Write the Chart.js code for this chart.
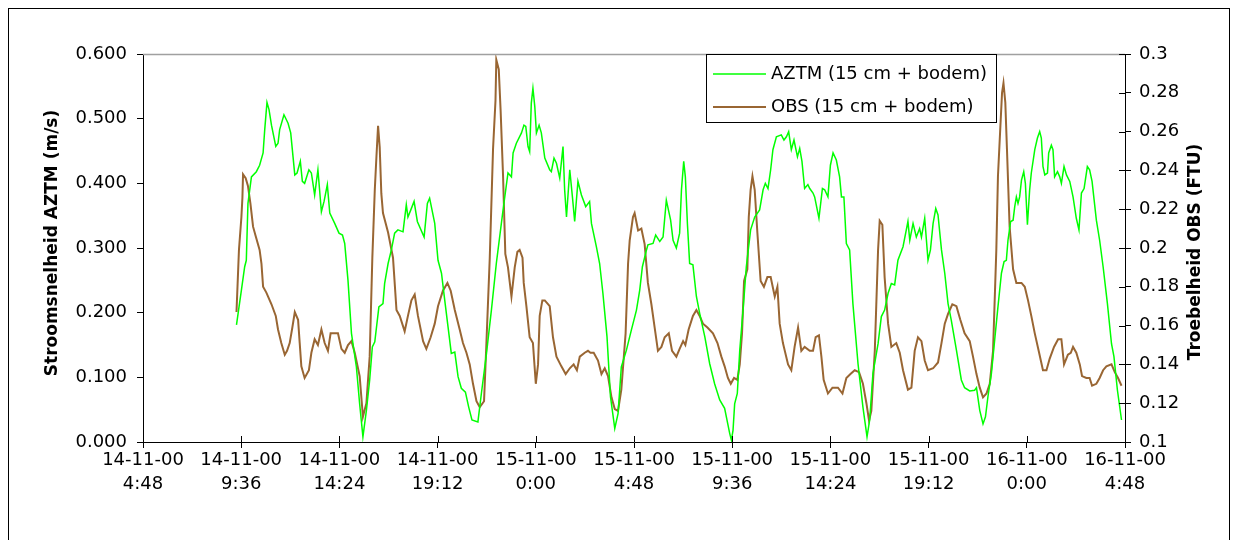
<!DOCTYPE html>
<html>
<head>
<meta charset="utf-8">
<script src="https://cdn.jsdelivr.net/npm/chart.js@4.4.1/dist/chart.umd.min.js"></script>
<style>
    html, body { margin: 0; padding: 0; background: #fff; }
    canvas { display: block; }
</style>
</head>
<body>
<canvas id="flowChart" width="1239" height="540"></canvas>
<script>
// x values are hours since 14-11-00 0:00
const tickHours = [4.8, 9.6, 14.4, 19.2, 24, 28.8, 33.6, 38.4, 43.2, 48, 52.8];
const tickLabels = [
    ['14-11-00', '4:48'], ['14-11-00', '9:36'], ['14-11-00', '14:24'], ['14-11-00', '19:12'],
    ['15-11-00', '0:00'], ['15-11-00', '4:48'], ['15-11-00', '9:36'], ['15-11-00', '14:24'],
    ['15-11-00', '19:12'], ['16-11-00', '0:00'], ['16-11-00', '4:48']
];

// AZTM current speed (m/s), left axis
const aztmHours = [
    9.37, 9.61, 9.77, 9.85, 9.93, 10.10, 10.34, 10.50, 10.67, 10.75, 10.86, 10.96, 11.08, 11.29, 11.40, 11.48,
    11.69, 11.89, 12.02, 12.22, 12.33, 12.49, 12.59, 12.70, 12.91, 13.03, 13.19, 13.35, 13.52, 13.65, 13.81, 13.93,
    14.17, 14.38, 14.55, 14.66, 14.82, 14.99, 15.23, 15.39, 15.55, 15.72, 15.88, 16.01, 16.13, 16.33, 16.53, 16.61,
    16.78, 16.94, 17.10, 17.26, 17.51, 17.67, 17.75, 17.89, 18.05, 18.21, 18.54, 18.70, 18.81, 19.06, 19.22, 19.39,
    19.55, 19.71, 19.87, 20.04, 20.20, 20.36, 20.56, 20.72, 20.88, 21.17, 21.34, 21.59, 21.83, 22.07, 22.40, 22.64,
    22.81, 22.89, 23.05, 23.30, 23.42, 23.51, 23.62, 23.70, 23.78, 23.86, 23.95, 24.03, 24.16, 24.27, 24.44, 24.68,
    24.76, 24.89, 25.01, 25.17, 25.33, 25.41, 25.50, 25.66, 25.79, 25.90, 26.06, 26.23, 26.44, 26.63, 26.72, 26.96,
    27.12, 27.28, 27.48, 27.65, 27.86, 28.02, 28.18, 28.43, 28.67, 28.92, 29.08, 29.21, 29.41, 29.48, 29.73, 29.86,
    30.06, 30.22, 30.38, 30.59, 30.71, 30.87, 31.03, 31.12, 31.23, 31.31, 31.41, 31.52, 31.68, 31.85, 32.01, 32.26,
    32.50, 32.74, 32.99, 33.23, 33.48, 33.56, 33.64, 33.72, 33.85, 33.97, 34.13, 34.29, 34.50, 34.70, 34.94, 35.11,
    35.22, 35.35, 35.48, 35.59, 35.76, 36.00, 36.13, 36.25, 36.36, 36.49, 36.62, 36.79, 36.90, 37.01, 37.14, 37.30,
    37.39, 37.55, 37.63, 37.84, 38.01, 38.12, 38.28, 38.40, 38.53, 38.69, 38.85, 38.94, 39.06, 39.18, 39.34, 39.50,
    39.75, 39.99, 40.19, 40.32, 40.48, 40.73, 40.89, 41.05, 41.22, 41.38, 41.54, 41.70, 41.95, 42.11, 42.19, 42.28,
    42.44, 42.60, 42.76, 42.85, 43.01, 43.17, 43.29, 43.42, 43.55, 43.66, 43.83, 43.99, 44.15, 44.31, 44.56, 44.80,
    44.96, 45.21, 45.45, 45.54, 45.70, 45.86, 45.98, 46.10, 46.27, 46.43, 46.59, 46.76, 46.89, 47.00, 47.08, 47.21,
    47.33, 47.41, 47.49, 47.57, 47.65, 47.74, 47.85, 47.93, 48.03, 48.14, 48.22, 48.39, 48.52, 48.63, 48.71, 48.79,
    48.88, 49.01, 49.07, 49.20, 49.28, 49.36, 49.50, 49.61, 49.69, 49.82, 49.94, 50.10, 50.26, 50.42, 50.55, 50.67,
    50.80, 50.96, 51.07, 51.19, 51.40, 51.56, 51.73, 51.94, 52.14, 52.26, 52.43, 52.63
];
const aztmSpeed = [
    0.181, 0.235, 0.271, 0.281, 0.369, 0.410, 0.418, 0.428, 0.447, 0.483, 0.525, 0.514, 0.490, 0.457, 0.462, 0.483,
    0.506, 0.493, 0.478, 0.413, 0.416, 0.434, 0.403, 0.400, 0.421, 0.416, 0.382, 0.421, 0.356, 0.372, 0.398, 0.354,
    0.338, 0.323, 0.320, 0.307, 0.250, 0.168, 0.116, 0.059, 0.008, 0.049, 0.096, 0.147, 0.155, 0.209, 0.214, 0.245,
    0.276, 0.297, 0.323, 0.328, 0.325, 0.367, 0.348, 0.359, 0.372, 0.341, 0.317, 0.369, 0.377, 0.338, 0.281, 0.261,
    0.219, 0.178, 0.137, 0.139, 0.101, 0.083, 0.077, 0.054, 0.034, 0.031, 0.075, 0.137, 0.204, 0.276, 0.359, 0.416,
    0.410, 0.447, 0.462, 0.478, 0.490, 0.488, 0.457, 0.449, 0.524, 0.547, 0.519, 0.478, 0.490, 0.478, 0.439, 0.421,
    0.418, 0.439, 0.431, 0.408, 0.457, 0.390, 0.348, 0.421, 0.379, 0.341, 0.403, 0.382, 0.364, 0.372, 0.338, 0.302,
    0.276, 0.230, 0.163, 0.070, 0.021, 0.044, 0.116, 0.142, 0.173, 0.204, 0.235, 0.271, 0.297, 0.305, 0.307, 0.320,
    0.310, 0.317, 0.374, 0.343, 0.312, 0.300, 0.323, 0.390, 0.434, 0.410, 0.338, 0.276, 0.274, 0.225, 0.199, 0.163,
    0.121, 0.090, 0.065, 0.052, 0.013, 0.003, 0.018, 0.059, 0.075, 0.142, 0.204, 0.271, 0.328, 0.348, 0.359, 0.390,
    0.400, 0.392, 0.421, 0.452, 0.472, 0.475, 0.467, 0.472, 0.480, 0.452, 0.467, 0.441, 0.454, 0.434, 0.392, 0.398,
    0.392, 0.385, 0.379, 0.346, 0.392, 0.390, 0.379, 0.428, 0.447, 0.436, 0.410, 0.379, 0.379, 0.307, 0.297, 0.214,
    0.121, 0.054, 0.008, 0.034, 0.106, 0.152, 0.194, 0.204, 0.230, 0.245, 0.243, 0.281, 0.302, 0.328, 0.341, 0.312,
    0.338, 0.317, 0.330, 0.317, 0.346, 0.281, 0.297, 0.338, 0.361, 0.351, 0.297, 0.261, 0.214, 0.188, 0.142, 0.096,
    0.084, 0.079, 0.080, 0.084, 0.049, 0.028, 0.039, 0.070, 0.106, 0.158, 0.209, 0.261, 0.279, 0.281, 0.312, 0.341,
    0.343, 0.364, 0.379, 0.369, 0.379, 0.405, 0.418, 0.400, 0.336, 0.390, 0.416, 0.452, 0.470, 0.480, 0.470, 0.426,
    0.413, 0.416, 0.447, 0.459, 0.452, 0.410, 0.418, 0.410, 0.400, 0.426, 0.413, 0.403, 0.379, 0.346, 0.328, 0.385,
    0.392, 0.426, 0.421, 0.403, 0.343, 0.312, 0.271, 0.214, 0.152, 0.132, 0.080, 0.034
];

// OBS turbidity (FTU), right axis
const obsHours = [
    9.37, 9.49, 9.61, 9.66, 9.69, 9.82, 9.93, 10.05, 10.18, 10.31, 10.50, 10.59, 10.67, 10.83, 11.08, 11.29,
    11.40, 11.56, 11.73, 11.84, 11.97, 12.10, 12.22, 12.38, 12.46, 12.54, 12.70, 12.91, 13.03, 13.19, 13.35, 13.52,
    13.68, 13.84, 13.97, 14.17, 14.33, 14.50, 14.66, 14.82, 14.99, 15.15, 15.39, 15.55, 15.72, 15.88, 16.01, 16.13,
    16.21, 16.29, 16.37, 16.45, 16.53, 16.78, 17.02, 17.19, 17.35, 17.59, 17.75, 17.92, 18.08, 18.24, 18.49, 18.65,
    18.86, 19.06, 19.22, 19.46, 19.68, 19.84, 20.04, 20.28, 20.44, 20.61, 20.77, 20.93, 21.10, 21.26, 21.47, 21.59,
    21.75, 21.91, 22.03, 22.07, 22.19, 22.28, 22.40, 22.51, 22.64, 22.81, 22.97, 23.10, 23.21, 23.35, 23.41, 23.54,
    23.70, 23.86, 24.00, 24.11, 24.19, 24.32, 24.44, 24.68, 24.84, 25.01, 25.25, 25.46, 25.66, 25.85, 26.01, 26.15,
    26.39, 26.55, 26.67, 26.83, 27.04, 27.21, 27.37, 27.53, 27.70, 27.86, 28.02, 28.18, 28.39, 28.51, 28.59, 28.75,
    28.83, 29.00, 29.16, 29.32, 29.48, 29.65, 29.81, 29.97, 30.14, 30.30, 30.50, 30.66, 30.87, 31.03, 31.20, 31.31,
    31.47, 31.68, 31.85, 32.01, 32.17, 32.39, 32.66, 32.88, 33.07, 33.23, 33.39, 33.53, 33.69, 33.85, 33.97, 34.08,
    34.18, 34.34, 34.41, 34.50, 34.59, 34.70, 34.83, 34.99, 35.15, 35.32, 35.48, 35.68, 35.81, 35.92, 36.08, 36.33,
    36.49, 36.65, 36.82, 36.98, 37.14, 37.39, 37.55, 37.68, 37.84, 37.96, 38.07, 38.28, 38.50, 38.77, 38.99, 39.18,
    39.38, 39.59, 39.80, 39.99, 40.16, 40.29, 40.40, 40.57, 40.73, 40.81, 40.94, 41.05, 41.22, 41.38, 41.62, 41.79,
    41.95, 42.19, 42.36, 42.52, 42.68, 42.85, 43.01, 43.17, 43.42, 43.66, 43.83, 43.99, 44.15, 44.36, 44.56, 44.75,
    44.96, 45.21, 45.37, 45.54, 45.70, 45.86, 46.03, 46.19, 46.35, 46.51, 46.59, 46.71, 46.79, 46.86, 46.95, 47.03,
    47.16, 47.33, 47.49, 47.74, 47.90, 48.06, 48.22, 48.39, 48.58, 48.79, 48.96, 49.12, 49.33, 49.53, 49.69, 49.82,
    50.01, 50.15, 50.26, 50.42, 50.59, 50.70, 50.91, 51.07, 51.19, 51.40, 51.56, 51.73, 51.89, 52.14, 52.30, 52.46,
    52.63
];
const obsTurbidity = [
    0.167, 0.199, 0.216, 0.226, 0.238, 0.236, 0.232, 0.223, 0.211, 0.206, 0.199, 0.192, 0.180, 0.177, 0.171, 0.165,
    0.158, 0.151, 0.145, 0.147, 0.151, 0.159, 0.167, 0.163, 0.151, 0.139, 0.133, 0.137, 0.146, 0.153, 0.150, 0.158,
    0.151, 0.147, 0.156, 0.156, 0.156, 0.148, 0.146, 0.150, 0.152, 0.146, 0.134, 0.113, 0.120, 0.144, 0.195, 0.230,
    0.247, 0.263, 0.252, 0.228, 0.218, 0.208, 0.195, 0.168, 0.165, 0.157, 0.165, 0.173, 0.176, 0.165, 0.152, 0.148,
    0.154, 0.161, 0.170, 0.178, 0.182, 0.178, 0.168, 0.158, 0.151, 0.146, 0.140, 0.130, 0.121, 0.118, 0.121, 0.152,
    0.195, 0.251, 0.276, 0.297, 0.292, 0.271, 0.237, 0.197, 0.190, 0.175, 0.190, 0.198, 0.199, 0.195, 0.182, 0.170,
    0.154, 0.151, 0.130, 0.140, 0.165, 0.173, 0.173, 0.170, 0.154, 0.144, 0.139, 0.135, 0.138, 0.140, 0.137, 0.144,
    0.146, 0.147, 0.146, 0.146, 0.142, 0.135, 0.138, 0.134, 0.123, 0.117, 0.116, 0.127, 0.156, 0.192, 0.204, 0.216,
    0.218, 0.209, 0.210, 0.202, 0.182, 0.171, 0.159, 0.147, 0.149, 0.154, 0.156, 0.147, 0.144, 0.148, 0.152, 0.150,
    0.158, 0.165, 0.168, 0.165, 0.161, 0.159, 0.156, 0.151, 0.144, 0.139, 0.133, 0.130, 0.133, 0.132, 0.140, 0.156,
    0.183, 0.189, 0.216, 0.230, 0.237, 0.230, 0.208, 0.183, 0.180, 0.185, 0.185, 0.175, 0.180, 0.161, 0.151, 0.140,
    0.137, 0.149, 0.159, 0.147, 0.149, 0.147, 0.147, 0.154, 0.155, 0.144, 0.132, 0.125, 0.128, 0.128, 0.125, 0.133,
    0.135, 0.137, 0.136, 0.130, 0.120, 0.111, 0.116, 0.147, 0.199, 0.214, 0.212, 0.185, 0.161, 0.149, 0.151, 0.146,
    0.137, 0.127, 0.128, 0.147, 0.154, 0.152, 0.142, 0.137, 0.138, 0.141, 0.151, 0.161, 0.166, 0.171, 0.170, 0.163,
    0.156, 0.152, 0.144, 0.135, 0.128, 0.123, 0.125, 0.130, 0.147, 0.199, 0.237, 0.263, 0.280, 0.285, 0.275, 0.251,
    0.211, 0.189, 0.182, 0.182, 0.180, 0.173, 0.165, 0.156, 0.147, 0.137, 0.137, 0.143, 0.149, 0.153, 0.153, 0.140,
    0.145, 0.146, 0.149, 0.146, 0.140, 0.134, 0.133, 0.133, 0.129, 0.130, 0.133, 0.137, 0.139, 0.140, 0.136, 0.133,
    0.129
];

const FONT = 'DejaVu Sans';

// frame, top border, inner tick halves, right title, legend
const decorPlugin = {
    id: 'decor',
    beforeDraw(chart) {
        const ctx = chart.ctx;
        ctx.save();
        ctx.fillStyle = '#fff';
        ctx.fillRect(0, 0, chart.width, chart.height);
        ctx.strokeStyle = '#000';
        ctx.lineWidth = 1;
        ctx.strokeRect(8.5, 8.5, chart.width - 18, chart.height + 20);
        ctx.restore();
    },
    afterDraw(chart) {
        const ctx = chart.ctx;
        const area = chart.chartArea;
        const xs = chart.scales.x;
        const yr = chart.scales.y1;
        ctx.save();

        // plot area top edge
        ctx.strokeStyle = '#a0a0a0';
        ctx.lineWidth = 1.5;
        ctx.beginPath();
        ctx.moveTo(area.left, area.top + 0.5);
        ctx.lineTo(area.right, area.top + 0.5);
        ctx.stroke();

        // ticks crossing into the plot
        ctx.strokeStyle = '#000';
        ctx.lineWidth = 1;
        ctx.beginPath();
        xs.ticks.forEach(t => {
            const px = Math.round(xs.getPixelForValue(t.value)) + 0.5;
            ctx.moveTo(px, area.bottom);
            ctx.lineTo(px, area.bottom - 6);
        });
        yr.ticks.forEach(t => {
            const py = Math.round(yr.getPixelForValue(t.value)) + 0.5;
            ctx.moveTo(area.right, py);
            ctx.lineTo(area.right - 6, py);
        });
        ctx.stroke();

        // axis titles
        ctx.fillStyle = '#000';
        ctx.font = 'bold 17px "' + FONT + '"';
        ctx.textAlign = 'center';
        ctx.textBaseline = 'middle';
        ctx.translate(53, 243);
        ctx.rotate(-Math.PI / 2);
        ctx.fillText('Stroomsnelheid AZTM (m/s)', 0, 0);
        ctx.setTransform(1, 0, 0, 1, 0, 0);
        ctx.translate(1196, 252);
        ctx.rotate(-Math.PI / 2);
        ctx.fillText('Troebelheid OBS (FTU)', 0, 0);
        ctx.setTransform(1, 0, 0, 1, 0, 0);

        // legend box
        const bx = 706.5, by = 54.5, bw = 290, bh = 68;
        ctx.fillStyle = '#fff';
        ctx.fillRect(bx, by, bw, bh);
        ctx.strokeStyle = '#000';
        ctx.strokeRect(bx, by, bw, bh);
        ctx.font = '18px "' + FONT + '"';
        ctx.textAlign = 'left';
        chart.data.datasets.forEach((ds, i) => {
            const ly = 74 + i * 33;
            ctx.strokeStyle = ds.borderColor;
            ctx.lineWidth = ds.borderWidth;
            ctx.beginPath();
            ctx.moveTo(713, ly);
            ctx.lineTo(766, ly);
            ctx.stroke();
            ctx.fillStyle = '#000';
            ctx.fillText(ds.label, 771, ly);
        });
        ctx.restore();
    }
};

const tickFont = { family: FONT, size: 18 };

new Chart(document.getElementById('flowChart'), {
    type: 'line',
    data: {
        datasets: [{
            label: 'AZTM (15 cm + bodem)',
            data: aztmHours.map((h, i) => ({ x: h, y: aztmSpeed[i] })),
            yAxisID: 'y',
            borderColor: '#00ff00',
            borderWidth: 1.5,
            pointRadius: 0,
            tension: 0
        }, {
            label: 'OBS (15 cm + bodem)',
            data: obsHours.map((h, i) => ({ x: h, y: obsTurbidity[i] })),
            yAxisID: 'y1',
            borderColor: '#996633',
            borderWidth: 2,
            pointRadius: 0,
            tension: 0
        }]
    },
    options: {
        responsive: false,
        animation: false,
        layout: { padding: { top: 54, left: 0, right: 0, bottom: 0 } },
        plugins: {
            legend: { display: false },
            tooltip: { enabled: false }
        },
        scales: {
            x: {
                type: 'linear',
                min: 4.8,
                max: 52.8,
                afterBuildTicks: scale => { scale.ticks = tickHours.map(v => ({ value: v })); },
                afterFit: scale => { scale.height = 98; },
                grid: { drawOnChartArea: false, drawTicks: true, tickLength: 6, color: '#000' },
                border: { color: '#000', width: 1 },
                ticks: {
                    autoSkip: false,
                    maxRotation: 0,
                    padding: 0,
                    color: '#000',
                    font: { family: FONT, size: 18, lineHeight: 1.33 },
                    callback: (value, index) => tickLabels[index]
                }
            },
            y: {
                position: 'left',
                min: 0,
                max: 0.6,
                afterFit: scale => { scale.width = 143; },
                grid: { drawOnChartArea: false, drawTicks: true, tickLength: 6, color: '#000' },
                border: { color: '#000', width: 1 },
                ticks: {
                    stepSize: 0.1,
                    padding: 10,
                    color: '#000',
                    font: tickFont,
                    callback: value => value.toFixed(3)
                }
            },
            y1: {
                position: 'right',
                min: 0.1,
                max: 0.3,
                afterFit: scale => { scale.width = 114; },
                grid: { drawOnChartArea: false, drawTicks: true, tickLength: 6, color: '#000' },
                border: { color: '#000', width: 1 },
                ticks: {
                    stepSize: 0.02,
                    padding: 8,
                    color: '#000',
                    font: tickFont,
                    callback: value => String(parseFloat(value.toFixed(2)))
                }
            }
        }
    },
    plugins: [decorPlugin]
});
</script>
</body>
</html>
